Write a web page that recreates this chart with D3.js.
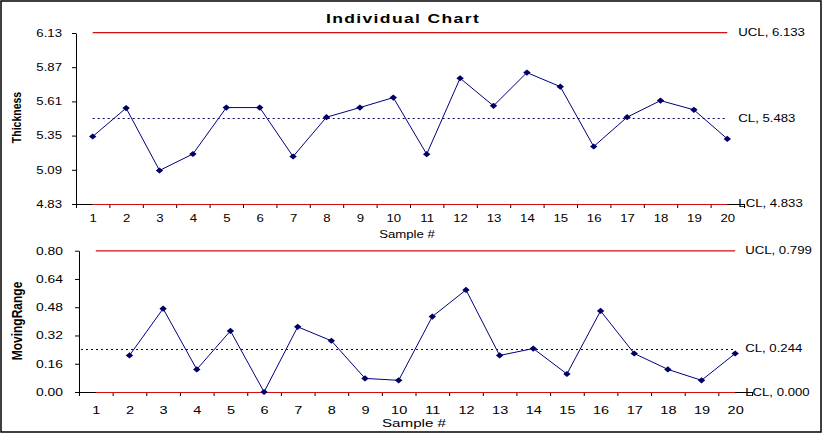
<!DOCTYPE html>
<html>
<head>
<meta charset="utf-8">
<script src="https://cdn.jsdelivr.net/npm/d3@7/dist/d3.min.js"></script>
<style>
  html, body { margin: 0; padding: 0; background: #fff; }
  svg { display: block; }
</style>
</head>
<body>
<script>
// ---------------- data ----------------
const samples = [1,2,3,4,5,6,7,8,9,10,11,12,13,14,15,16,17,18,19,20];
const thickness = [5.343,5.559,5.085,5.210,5.563,5.563,5.191,5.490,5.563,5.639,
                   5.209,5.786,5.576,5.829,5.722,5.267,5.490,5.616,5.546,5.325];
const movingRange = [null,0.207,0.472,0.128,0.346,0.000,0.369,0.290,0.077,0.066,
                     0.427,0.578,0.207,0.246,0.102,0.459,0.218,0.128,0.066,0.218];
const indLimits = { UCL: 6.133, CL: 5.483, LCL: 4.833 };
const mrLimits  = { UCL: 0.799, CL: 0.244, LCL: 0.000 };
const indTicks = [6.13,5.87,5.61,5.35,5.09,4.83];
const mrTicks  = [0.80,0.64,0.48,0.32,0.16,0.00];
const titleText = "Individual Chart";
const xTitle = "Sample #";
const indYTitle = "Thickness";
const mrYTitle = "MovingRange";

// ---------------- drawing ----------------
const W = 825, H = 436;
const FONT = "'Liberation Sans', Arial, sans-serif";
const SX = 1.32;          // horizontal stretch of the reference text
const RED = "#d01010", NAVY = "#000080", DOT = "#000060", MARK = "#000066";
const crisp = v => Math.round(v) + 0.5;

const svg = d3.select("body").append("svg")
  .attr("width", W).attr("height", H)
  .style("font-family", FONT);

svg.append("rect").attr("width", W).attr("height", H).attr("fill", "#fff");
svg.append("rect").attr("x", 1).attr("y", 1).attr("width", 820).attr("height", 431)
  .attr("fill", "none").attr("stroke", "#000").attr("stroke-width", 1.5);

function label(x, y, str, o = {}) {
  const t = svg.append("text")
    .attr("transform", `translate(${x},${y}) scale(${o.sx || SX},1)` + (o.rot ? ` rotate(${o.rot})` : ""))
    .attr("text-anchor", o.anchor || "start")
    .attr("font-size", o.size || 10)
    .attr("font-weight", o.bold ? "bold" : "normal")
    .attr("fill", "#000")
    .text(str);
  if (o.ls) t.attr("letter-spacing", o.ls);
  if (o.dy) t.attr("dy", o.dy);
  return t;
}

function panel(cfg) {
  const x = d3.scaleLinear().domain([0.5, 20.5]).range(cfg.xRange);
  const y = d3.scaleLinear().domain(cfg.yDomain).range(cfg.yRange);
  const axisX = cfg.xRange[0];
  const axisY = cfg.yRange[0];

  // y axis
  const gy = svg.append("g").attr("transform", `translate(${axisX},0)`)
    .call(d3.axisLeft(y).tickValues(cfg.ticks).tickFormat(d3.format(".2f"))
      .tickSize(4).tickSizeOuter(0));
  gy.selectAll("text")
    .attr("font-family", FONT).attr("font-size", cfg.tickSize).attr("fill", "#000")
    .attr("x", -cfg.yLabOff / SX)
    .attr("transform", `scale(${SX},1)`);
  gy.selectAll("path,line").attr("stroke", "#000");

  // x axis: boundary ticks
  const gx = svg.append("g").attr("transform", `translate(0,${axisY})`)
    .call(d3.axisBottom(x).tickValues(d3.range(0.5, 21, 1)).tickFormat("")
      .tickSize(4).tickSizeOuter(0));
  gx.selectAll("path,line").attr("stroke", "#000");
  // x axis: category labels
  const gl = svg.append("g").attr("transform", `translate(0,${axisY})`)
    .call(d3.axisBottom(x).tickValues(samples).tickFormat(d3.format("d"))
      .tickSize(0).tickPadding(cfg.xLabPad));
  gl.select(".domain").remove();
  gl.selectAll("text")
    .attr("font-family", FONT).attr("font-size", cfg.xTickSize).attr("fill", "#000")
    .attr("transform", `scale(${SX},1)`);

  const x1 = x(samples[0]), x20 = x(samples[samples.length - 1]);

  // limit lines
  const lim = cfg.limits;
  svg.append("line").attr("x1", x1).attr("x2", x20)
    .attr("y1", y(lim.UCL)).attr("y2", y(lim.UCL))
    .attr("stroke", RED).attr("stroke-width", 1.2);
  svg.append("line").attr("x1", x1).attr("x2", x20)
    .attr("y1", crisp(y(lim.LCL))).attr("y2", crisp(y(lim.LCL)))
    .attr("stroke", RED).attr("stroke-width", 1);
  svg.append("line").attr("x1", cfg.clStart != null ? cfg.clStart : x1).attr("x2", x20)
    .attr("y1", crisp(y(lim.CL))).attr("y2", crisp(y(lim.CL)))
    .attr("stroke", DOT).attr("stroke-width", 1).attr("stroke-dasharray", "2,3");

  // series
  const pts = samples.map((s, i) => ({ s, v: cfg.values[i] })).filter(d => d.v != null);
  svg.append("path").datum(pts)
    .attr("d", d3.line().x(d => x(d.s)).y(d => y(d.v)))
    .attr("fill", "none").attr("stroke", NAVY).attr("stroke-width", 1);
  const sym = d3.symbol().type(d3.symbolSquare).size(19);
  svg.selectAll(null).data(pts).enter().append("path")
    .attr("d", sym)
    .attr("transform", d => `translate(${x(d.s)},${y(d.v)}) scale(1.2,1) rotate(45)`)
    .attr("fill", MARK);

  // limit labels
  const lx = x20 + cfg.limLabOff;
  label(lx, y(lim.UCL), `UCL, ${lim.UCL.toFixed(3)}`, { dy: "0.35em" });
  label(lx, y(lim.CL), `CL, ${lim.CL.toFixed(3)}`, { dy: "0.35em" });
  label(lx, y(lim.LCL), `LCL, ${lim.LCL.toFixed(3)}`, { dy: "0.35em" });

  // axis titles
  label(cfg.xTitlePos[0], cfg.xTitlePos[1], xTitle, { anchor: "middle", size: cfg.xTitleSize });
  label(cfg.yTitlePos[0], cfg.yTitlePos[1], cfg.yTitle,
        { anchor: "middle", size: cfg.yTitleSize, bold: true, rot: -90, sx: 1.25 });
}

label(403, 22.5, titleText, { anchor: "middle", size: 13, bold: true, ls: 1, sx: 1.35 });

panel({
  values: thickness, limits: indLimits, ticks: indTicks,
  xRange: [76, 744], yDomain: [4.83, 6.13], yRange: [204, 33],
  tickSize: 10, xTickSize: 10, yLabOff: 14, xLabPad: 11, limLabOff: 11,
  xTitlePos: [407, 237.5], xTitleSize: 10,
  yTitle: indYTitle, yTitlePos: [20.5, 117.5], yTitleSize: 10.5
});

panel({
  values: movingRange, limits: mrLimits, ticks: mrTicks,
  xRange: [79, 752], yDomain: [0, 0.8], yRange: [392, 250.7],
  tickSize: 10.5, xTickSize: 11, yLabOff: 16, xLabPad: 14, limLabOff: 10,
  clStart: 81,
  xTitlePos: [414, 426.5], xTitleSize: 11.5,
  yTitle: mrYTitle, yTitlePos: [21.5, 321], yTitleSize: 12
});
</script>
</body>
</html>
